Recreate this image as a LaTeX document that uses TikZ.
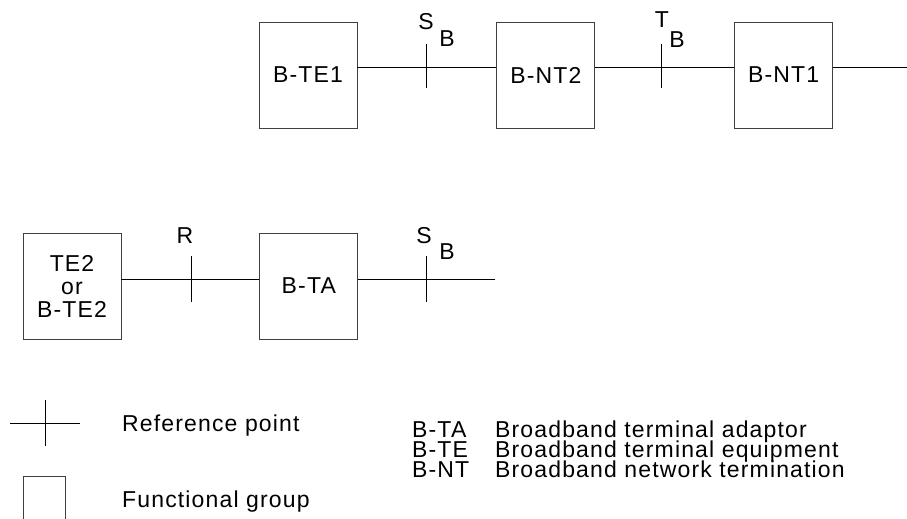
\documentclass[tikz,border=0pt]{standalone}
\usepackage{fontspec}
\setmainfont{Liberation Sans}[LetterSpace=5]
\usetikzlibrary{positioning}

\begin{document}
\begin{tikzpicture}[x=1pt, y=-1pt,
  fgroup/.style={rectangle, draw=black!75, line width=0.8pt, minimum width=98pt, minimum height=106pt, inner sep=0pt, align=center, font=\fontsize{23}{23}\selectfont},
  link/.style={line width=0.8pt},
  lbl/.style={inner sep=0pt, anchor=base, font=\fontsize{23}{23}\selectfont},
  legtext/.style={inner sep=0pt, anchor=base west, font=\fontsize{23}{23}\selectfont}]
\useasboundingbox (0,0) rectangle (907,519);
% upper chain
\node[fgroup] (te1) at (308,75) {B-TE1};
\node[fgroup, right=139pt of te1] (nt2) {B-NT2};
\node[fgroup, right=139pt of nt2] (nt1) {B-NT1};
\coordinate (sb1) at (426,67);
\coordinate (tb) at (661,67);
\coordinate (nt1end) at (907,67);
\draw[link] ([yshift=8pt]te1.east) -- ([yshift=8pt]nt2.west);
\draw[link] ([yshift=8pt]nt2.east) -- ([yshift=8pt]nt1.west);
\draw[link] ([yshift=8pt]nt1.east) -- (nt1end);
\draw[link] ([yshift=23pt]sb1) -- ([yshift=-21pt]sb1);
\draw[link] ([yshift=23pt]tb) -- ([yshift=-21pt]tb);
\node[lbl] (sb1s) at (426,30) {S};
\node[lbl] (sb1b) at (447,47) {B};
\node[lbl] (tbt) at (662,28) {T};
\node[lbl] (tbb) at (677,48) {B};
% lower chain
\node[fgroup] (te2) at (72,286) {TE2\\or\\B-TE2};
\node[fgroup, right=138pt of te2] (bta) {B-TA};
\coordinate (r) at (191,279);
\coordinate (sb2) at (426,279);
\coordinate (btaend) at (495,279);
\draw[link] ([yshift=7pt]te2.east) -- ([yshift=7pt]bta.west);
\draw[link] ([yshift=7pt]bta.east) -- (btaend);
\draw[link] ([yshift=23pt]r) -- ([yshift=-23pt]r);
\draw[link] ([yshift=23pt]sb2) -- ([yshift=-23pt]sb2);
\node[lbl] (rl) at (185,243) {R};
\node[lbl] (sb2s) at (424,243) {S};
\node[lbl] (sb2b) at (447,259) {B};
% legend
\coordinate (rp) at (45,423);
\draw[link] ([xshift=-35pt]rp) -- ([xshift=35pt]rp);
\draw[link] ([yshift=23pt]rp) -- ([yshift=-23pt]rp);
\node[legtext] (rptext) at (122,431) {Reference point};
\draw[draw=black!75, line width=0.8pt] (23,519) -- (23,476) -- (65,476) -- (65,519);
\node[legtext] (fgtext) at (122,507) {Functional group};
\node[legtext] (ab1) at (412,437) {B-TA};
\node[legtext] (ab2) at (412,457) {B-TE};
\node[legtext] (ab3) at (412,477) {B-NT};
\node[legtext] (ex1) at (495,437) {Broadband terminal adaptor};
\node[legtext] (ex2) at (495,457) {Broadband terminal equipment};
\node[legtext] (ex3) at (495,477) {Broadband network termination};
\end{tikzpicture}
\end{document}
